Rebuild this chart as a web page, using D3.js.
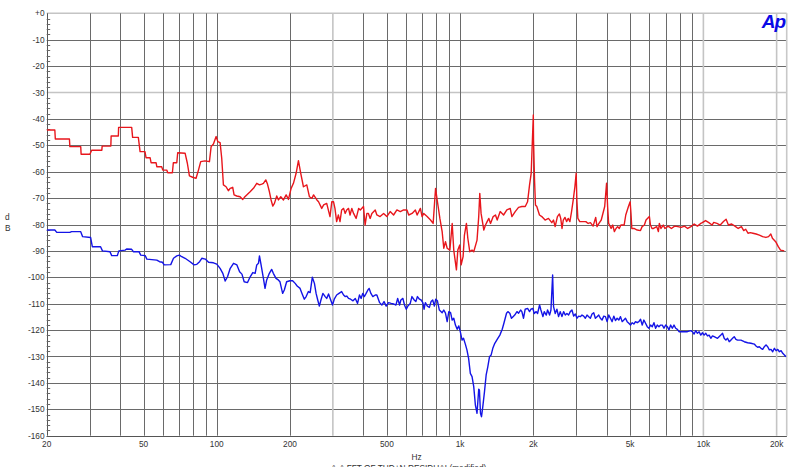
<!DOCTYPE html>
<html><head><meta charset="utf-8">
<script src="https://cdn.jsdelivr.net/npm/d3@7"></script>
<style>html,body{margin:0;padding:0;background:#fff;}svg{display:block;font-family:Arial,"Liberation Sans",sans-serif;}</style>
</head><body>
<svg id="c" width="800" height="467"></svg>
<script>
// ---- data ----
const redFreq = [20,21.6,21.7,24.8,24.9,27.6,27.7,30.1,30.6,33.7,33.8,36.7,36.8,39.4,39.5,44.7,45.1,47.6,48.4,50.7,51.2,53.2,53.7,56.3,56.7,59.4,60,62.3,62.9,65.7,66.3,68.5,69.1,74.1,75.7,77.2,79.6,82.2,84.1,85.9,89.5,93.3,94.8,96.9,99.4,101,103.2,104.8,106.5,109.2,111.6,113.5,116.3,117.8,120.8,124.7,127.9,129.9,132.8,137.1,141.5,146,149.8,153.1,155.5,159,161.6,164.6,167.2,169.9,172.6,176.4,179.3,183.3,188,192.8,197.1,202.1,206.6,211.9,216.6,221.4,227.1,234.4,240.4,246,250,258,262,270,275,283,292,297,302,306,311,316,321,326,332,337,342,348,353,359,365,374,383,389,401,407,414,420,427,434,448,455,469,485,500,516,533,550,568,586,605,615,635,655,666,687,698,709,732,756,775,793,805,826,844,857,871,885,908,928,942,966,979,997,1010,1029,1042,1062,1076,1096,1120,1138,1174,1193,1205,1220,1252,1272,1292,1313,1334,1368,1398,1421,1462,1509,1557,1607,1633,1685,1739,1795,1853,1894,1930,1960,2000,2004,2023,2041,2067,2120,2167,2236,2308,2382,2420,2459,2512,2560,2592,2624,2656,2698,2740,2783,2827,2872,2918,2964,3000,3020,3049,3105,3205,3287,3360,3434,3521,3609,3654,3722,3804,3930,4000,4040,4080,4112,4176,4241,4307,4374,4441,4511,4581,4724,4797,4920,5000,5040,5080,5184,5347,5514,5600,5722,5811,6000,6060,6150,6237,6431,6531,6592,6695,6841,6947,7165,7389,7620,7858,8104,8357,8619,8888,9166,9453,9749,9900,10210,10529,10858,11027,11372,11727,12094,12399,12672,13068,13477,13899,14333,14648,14924,15251,15586,15976,16476,16991,17523,18071,18527,18928,19219,19820,20315,20759,21500];
const redDb = [-44.2,-44.2,-47.6,-47.6,-50.5,-50.5,-53.4,-53.4,-51.9,-51.9,-50.3,-50.3,-46.5,-46.5,-43.2,-43.2,-47.0,-47.0,-52.4,-52.4,-54.7,-54.7,-56.6,-56.6,-58.1,-58.1,-59.4,-59.4,-60.4,-60.4,-56.6,-56.6,-52.8,-53.0,-56.8,-61.6,-62.1,-62.5,-59.4,-56.2,-55.9,-56.2,-50.5,-49.5,-46.7,-48.6,-49.0,-54.9,-65.0,-65.7,-67.2,-66.3,-65.9,-68.8,-69.2,-69.5,-70.5,-69.7,-68.8,-67.6,-66.3,-64.4,-65.0,-64.7,-64.4,-63.1,-64.7,-67.6,-70.7,-73.0,-72.0,-69.2,-70.7,-69.5,-70.7,-68.8,-70.5,-66.3,-64.4,-60.6,-55.8,-60.6,-65.7,-65.0,-69.5,-70.1,-68.8,-70.7,-71.4,-73.9,-72.6,-72.0,-77.0,-71.4,-71.4,-73.9,-78.9,-76.4,-78.9,-74.5,-73.9,-75.8,-74.5,-73.9,-76.4,-73.9,-75.8,-77.7,-73.9,-74.5,-73.2,-80.2,-75.8,-75.8,-77.7,-75.8,-74.5,-76.4,-77.0,-75.8,-77.0,-75.1,-76.4,-74.5,-75.1,-74.5,-74.5,-76.4,-75.8,-74.5,-76.4,-73.9,-77.0,-75.8,-77.0,-78.3,-79.6,-66.3,-70.7,-77.7,-82.7,-89.0,-86.5,-89.0,-89.7,-79.6,-89.7,-97.2,-89.7,-87.8,-95.3,-92.2,-84.0,-79.6,-85.2,-90.3,-89.7,-90.3,-85.9,-77.0,-68.2,-75.8,-82.1,-80.2,-78.9,-77.7,-79.6,-77.0,-76.4,-78.3,-75.1,-76.4,-74.5,-73.9,-77.0,-75.1,-73.5,-73.2,-73.2,-71.4,-65.0,-60.6,-38.5,-48.0,-63.1,-72.6,-73.2,-76.4,-77.0,-78.3,-77.7,-79.3,-78.3,-80.8,-77.0,-76.0,-77.7,-81.5,-78.3,-77.3,-78.9,-77.7,-78.9,-75.1,-70.7,-65.7,-60.6,-70.7,-77.7,-78.9,-78.9,-78.9,-79.6,-79.3,-80.6,-77.3,-80.8,-79.6,-78.3,-73.2,-64.4,-73.2,-79.6,-80.2,-81.5,-80.2,-82.7,-81.5,-80.8,-81.5,-80.2,-80.2,-76.4,-73.2,-71.4,-75.8,-81.5,-81.5,-82.1,-82.3,-80.8,-80.2,-78.3,-77.0,-80.2,-81.5,-81.5,-80.8,-82.7,-79.6,-81.5,-80.2,-81.5,-80.6,-81.5,-80.6,-80.8,-81.1,-80.6,-81.5,-80.8,-79.8,-80.6,-79.6,-79.3,-78.5,-79.3,-80.2,-79.2,-79.6,-80.2,-78.9,-78.0,-80.2,-79.8,-80.6,-81.5,-80.8,-82.3,-81.8,-83.3,-83.1,-83.3,-83.6,-84.0,-84.6,-84.9,-84.6,-83.6,-85.2,-86.5,-88.4,-89.7,-90.0];

const blueFreq = [20,21.6,22,24.9,25.3,27.6,28.1,30.3,30.8,33.3,33.9,36.4,37,39,39.6,42,42.6,44.7,45.4,47.9,48.7,50.8,51.6,56.7,58.2,59.8,60.8,64.7,66.4,68.5,70.2,71.8,74.1,77.7,80.7,82.8,85,86.8,89.7,92.5,96.9,100,103.2,105.9,108.3,110.7,113.6,117.2,121,124.1,126.9,129.6,133.8,137.2,140.6,143.8,146,148.4,149.8,152.1,155.5,157.9,160.4,164.5,168.1,170.8,175.2,179,181.9,186.5,189.5,193.7,199.8,205,210,214,220,224,229,233,238,242,247,252,256,260,264,268,273,279,283,288,294,299,304,311,318,326,332,337,342,348,355,363,371,379,386,392,398,404,411,418,423,430,438,448,455,467,477,487,497,508,521,533,545,554,564,571,582,591,601,610,624,634,648,658,668,681,692,703,711,720,734,748,760,772,784,794,807,822,844,857,871,885,899,914,928,942,957,973,988,1002,1019,1033,1051,1067,1084,1102,1120,1138,1156,1174,1193,1201,1213,1225,1240,1260,1280,1300,1321,1342,1363,1389,1421,1457,1490,1514,1552,1572,1601,1626,1651,1677,1713,1740,1773,1795,1823,1852,1894,1930,1954,1992,2017,2055,2082,2122,2149,2190,2218,2261,2289,2333,2363,2401,2422,2461,2500,2540,2580,2622,2664,2706,2749,2793,2838,2883,2929,2976,3023,3071,3121,3170,3221,3272,3325,3378,3432,3486,3542,3598,3656,3714,3773,3834,3895,3957,4020,4084,4149,4216,4283,4351,4421,4491,4563,4636,4710,4785,4861,4939,5018,5098,5179,5262,5346,5431,5518,5606,5695,5786,5878,5972,6068,6164,6263,6363,6464,6567,6672,6779,6887,6997,7108,7222,7337,7454,7573,7694,7817,7941,8068,8328,8595,8872,9013,9157,9304,9452,9603,9756,9911,10070,10230,10394,10560,10728,10899,11073,11430,11797,11985,12177,12371,12568,12769,12973,13180,13390,13604,13821,14265,14724,15198,15686,16191,16449,16712,16979,17250,17525,17804,18088,18377,18670,18968,19271,19578,19891,20208,20530,20858,21191,21528,21872];
const blueDb = [-82.1,-82.1,-83.0,-83.0,-82.7,-82.7,-84.6,-84.9,-88.4,-88.4,-90.0,-90.3,-91.8,-91.8,-90.0,-89.7,-89.3,-89.4,-90.3,-90.3,-91.6,-91.8,-93.1,-93.5,-94.1,-94.3,-95.3,-95.2,-92.8,-91.9,-91.6,-92.2,-92.8,-94.1,-95.3,-95.1,-94.1,-92.8,-93.1,-94.3,-94.5,-95.0,-96.6,-98.5,-101.4,-99.8,-96.6,-94.7,-95.3,-97.9,-98.8,-101.7,-102.0,-99.8,-98.2,-98.5,-95.3,-94.7,-91.9,-95.3,-100.4,-104.2,-101.0,-98.5,-97.0,-98.5,-100.4,-101.0,-101.7,-106.1,-104.8,-101.7,-101.3,-101.3,-102.3,-103.3,-104.2,-106.1,-108.3,-107.3,-105.4,-105.8,-100.0,-102.3,-106.1,-108.6,-110.9,-108.6,-106.1,-107.3,-108.0,-106.3,-108.6,-110.5,-108.3,-106.7,-106.1,-105.4,-106.7,-107.3,-107.1,-108.0,-108.3,-108.9,-108.0,-109.9,-106.7,-108.0,-106.1,-107.3,-106.1,-104.8,-104.2,-106.1,-107.3,-106.7,-106.7,-109.6,-110.5,-109.2,-110.9,-109.6,-109.9,-110.1,-110.5,-108.0,-110.5,-108.6,-108.0,-110.5,-112.1,-110.9,-109.9,-107.3,-108.6,-109.2,-107.3,-108.3,-108.6,-109.6,-112.1,-109.6,-110.9,-111.4,-109.2,-108.6,-110.9,-108.3,-108.9,-112.4,-113.4,-112.4,-113.6,-116.8,-113.0,-113.4,-116.2,-115.5,-118.1,-119.7,-118.4,-120.6,-123.8,-123.1,-125.3,-127.5,-130.7,-136.4,-137.6,-141.4,-148.4,-151.5,-142.4,-142.7,-151.5,-152.8,-149.0,-143.3,-137.0,-133.9,-130.1,-129.4,-126.9,-125.0,-123.5,-121.9,-119.7,-117.4,-113.6,-113.0,-113.6,-115.5,-114.9,-114.3,-113.0,-113.6,-112.4,-113.0,-115.5,-112.1,-111.8,-113.0,-112.1,-111.8,-113.7,-113.0,-113.7,-110.5,-112.4,-114.9,-113.0,-114.3,-112.4,-114.3,-112.4,-99.1,-111.1,-113.7,-112.1,-114.9,-113.0,-114.9,-113.0,-114.3,-113.7,-114.3,-113.0,-112.4,-114.7,-113.9,-115.5,-114.7,-114.9,-114.3,-114.7,-115.5,-114.3,-114.9,-115.5,-113.9,-113.4,-115.5,-114.9,-114.3,-115.5,-116.2,-114.7,-114.9,-116.8,-114.3,-115.5,-116.8,-114.7,-116.4,-115.5,-116.2,-114.9,-116.8,-116.2,-115.5,-116.8,-117.4,-118.1,-117.2,-117.7,-116.8,-117.2,-116.8,-115.9,-118.1,-116.2,-117.4,-118.7,-119.3,-118.1,-118.7,-117.2,-119.3,-118.1,-118.7,-118.1,-118.1,-119.3,-118.1,-118.7,-119.9,-118.1,-119.3,-118.1,-119.3,-119.7,-120.6,-120.6,-120.6,-120.6,-120.2,-120.6,-121.5,-120.2,-121.2,-120.6,-121.9,-121.0,-121.9,-121.2,-122.2,-121.9,-123.1,-122.2,-122.5,-123.1,-121.9,-121.2,-123.1,-123.8,-123.1,-124.4,-123.8,-123.1,-122.5,-123.5,-123.8,-123.8,-124.4,-124.8,-125.0,-125.3,-126.0,-126.5,-126.3,-126.9,-127.3,-126.3,-125.6,-126.3,-127.5,-127.3,-128.2,-126.9,-127.8,-127.3,-128.2,-127.8,-128.8,-129.4,-130.1];

const xTickValues = [20,50,100,200,500,1000,2000,5000,10000,20000];
const xTickLabels = ["20","50","100","200","500","1k","2k","5k","10k","20k"];
const yTickValues = [0,-10,-20,-30,-40,-50,-60,-70,-80,-90,-100,-110,-120,-130,-140,-150,-160];
const yTickLabels = ["+0","-10","-20","-30","-40","-50","-60","-70","-80","-90","-100","-110","-120","-130","-140","-150","-160"];
const gridFreqs = [30,40,50,60,70,80,90,100,200,300,400,500,600,700,800,900,1000,2000,3000,4000,5000,6000,7000,8000,9000,10000,20000];
const lightFreqs = [300,10000,20000];
const lightDb = [0,-30];

// ---- chart ----
const svg = d3.select("#c");
const L = 46.7, R = 786.7, T = 13.3, B = 435.7;
const x = d3.scaleLog().domain([20,22000]).range([L,R]);
const y = d3.scaleLinear().domain([-160,0]).range([B,T]);
const px = v => Math.round(v) + 0.5;

const g = svg.append("g");
// horizontal grid
yTickValues.forEach(v => {
  const light = lightDb.includes(v);
  g.append("line").attr("x1",L).attr("x2",R).attr("y1",light?y(v):px(y(v))).attr("y2",light?y(v):px(y(v)))
    .attr("stroke", light ? "#c4c4c4" : "#6a6a6a").attr("stroke-width", light ? 1.6 : 1);
});
// vertical grid
gridFreqs.forEach(f => {
  const light = lightFreqs.includes(f);
  g.append("line").attr("x1",light?x(f):px(x(f))).attr("x2",light?x(f):px(x(f))).attr("y1",T).attr("y2",B)
    .attr("stroke", light ? "#c4c4c4" : "#6a6a6a").attr("stroke-width", light ? 1.6 : 1);
});
// right edge (light) and left/bottom axes
g.append("line").attr("x1",R).attr("x2",R).attr("y1",T).attr("y2",B).attr("stroke","#c8c8c8").attr("stroke-width",1.6);
g.append("line").attr("x1",px(L)).attr("x2",px(L)).attr("y1",T).attr("y2",B).attr("stroke","#555");
g.append("line").attr("x1",L).attr("x2",R).attr("y1",px(B)).attr("y2",px(B)).attr("stroke","#555");

// minor y ticks every 2 dB
d3.range(-160,1,2).filter(v => v % 10 !== 0).forEach(v => {
  g.append("line").attr("x1",L).attr("x2",L+3.5).attr("y1",px(y(v))).attr("y2",px(y(v))).attr("stroke","#666");
});

// y labels
yTickValues.forEach((v,i) => {
  svg.append("text").attr("x",44.5).attr("y",y(v)+3).attr("text-anchor","end")
    .attr("font-size",8.3).attr("fill","#333").text(yTickLabels[i]);
});
// x labels
xTickValues.forEach((v,i) => {
  svg.append("text").attr("x",x(v)).attr("y",446.5).attr("text-anchor","middle")
    .attr("font-size",8.3).attr("fill","#333").text(xTickLabels[i]);
});
// axis titles
svg.append("text").attr("x",5).attr("y",220).attr("font-size",8.3).attr("fill","#333").text("d");
svg.append("text").attr("x",5).attr("y",231).attr("font-size",8.3).attr("fill","#333").text("B");
svg.append("text").attr("x",416.5).attr("y",460).attr("text-anchor","middle").attr("font-size",8.3).attr("fill","#333").text("Hz");
svg.append("text").attr("x",331).attr("y",470.5).attr("font-size",8.3).attr("fill","#333").text("A-A FFT OF THD+N RESIDUAL(modified)");

// logo
svg.append("text").attr("x",785).attr("y",28).attr("text-anchor","end").attr("font-size",19)
  .attr("font-weight","bold").attr("font-style","italic").attr("fill","#0a0ae6").attr("letter-spacing",-1).text("Ap");

// data lines
const clip = svg.append("clipPath").attr("id","pc").append("rect").attr("x",L).attr("y",T).attr("width",R-L).attr("height",B-T);
const line = d3.line().x(d => x(d[0])).y(d => y(d[1]));
const red = redFreq.map((f,i) => [f, redDb[i]]);
const blue = blueFreq.map((f,i) => [f, blueDb[i]]);
svg.append("path").datum(blue).attr("d",line).attr("fill","none").attr("stroke","#1414e6").attr("stroke-width",1.4).attr("stroke-linejoin","round").attr("clip-path","url(#pc)");
svg.append("path").datum(red).attr("d",line).attr("fill","none").attr("stroke","#e8161c").attr("stroke-width",1.4).attr("stroke-linejoin","round").attr("clip-path","url(#pc)");
</script>
</body></html>
